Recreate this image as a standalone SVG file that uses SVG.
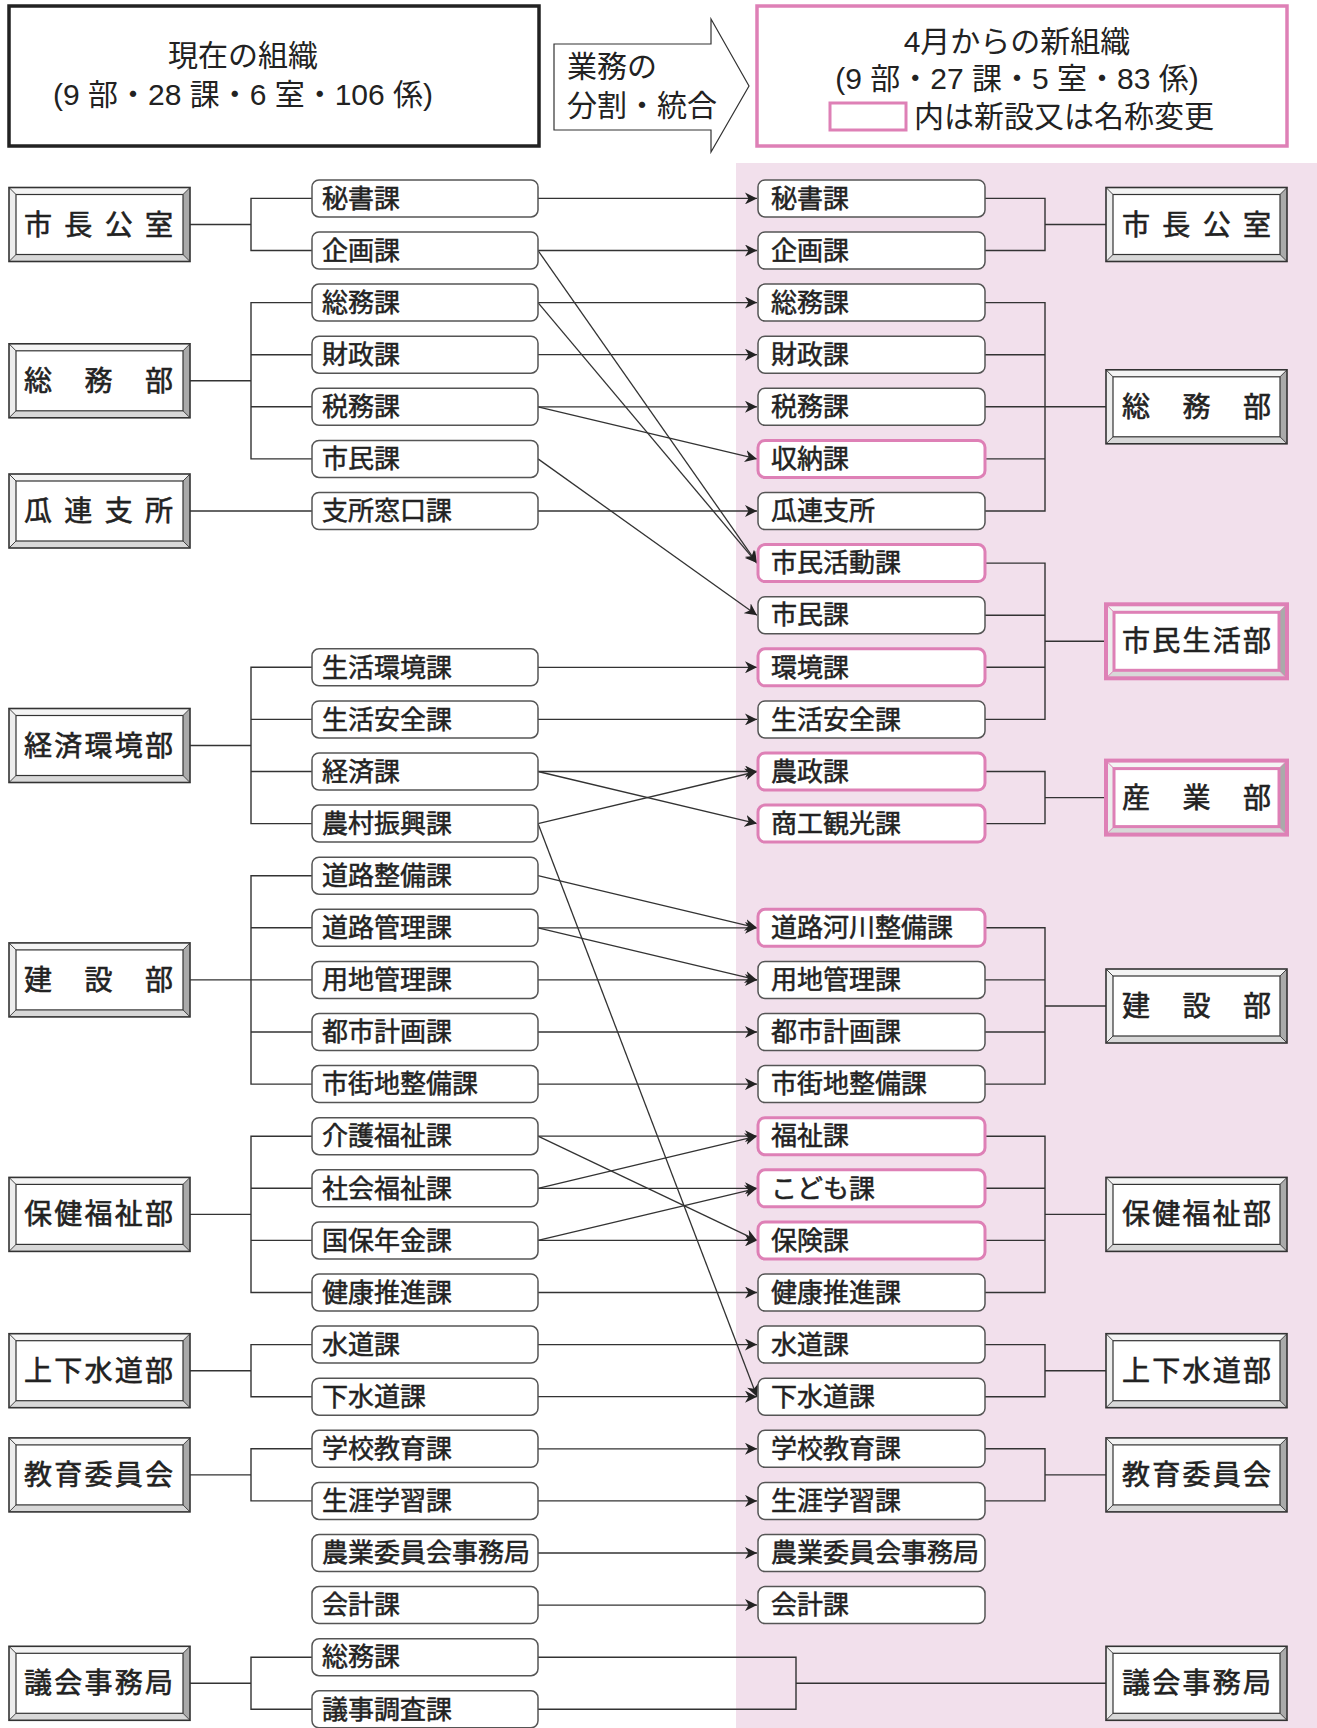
<svg xmlns="http://www.w3.org/2000/svg" xmlns:xlink="http://www.w3.org/1999/xlink" width="1317" height="1728" viewBox="0 0 1317 1728">
<style>
text{font-family:'Noto Sans CJK JP',sans-serif;fill:#222;}
.hd{font-family:'Liberation Sans','Noto Sans CJK JP',sans-serif;font-size:30px;}
.s{font-size:26px;stroke:#222;stroke-width:0.5px;}
.d{font-size:28px;stroke:#222;stroke-width:0.6px;}
.bx{fill:#fff;stroke:#555;stroke-width:1.5;}
.pk{fill:#fff;stroke:#de80b6;stroke-width:3;}
.br{fill:none;stroke:#333;stroke-width:1.4;}
.a{stroke:#333;stroke-width:1.3;fill:none;marker-end:url(#ah);}
</style>
<defs>
<marker id="ah" markerUnits="userSpaceOnUse" markerWidth="14" markerHeight="12" refX="12" refY="6" orient="auto">
<path d="M0,0 L12,6 L0,12 L3.5,6 z" fill="#222"/>
</marker>
<g id="bev">
<polygon points="0,0 181,0 174,7 7,7" fill="#f4f4f4"/>
<polygon points="0,0 7,7 7,67 0,74" fill="#ededed"/>
<polygon points="0,74 7,67 174,67 181,74" fill="#d8d8d8"/>
<polygon points="181,0 181,74 174,67 174,7" fill="#aaaaaa"/>
<rect x="7" y="7" width="167" height="60" fill="#fff" stroke="#333" stroke-width="1.2"/>
<path d="M0,0 L7,7 M181,0 L174,7 M0,74 L7,67 M181,74 L174,67" stroke="#444" stroke-width="1"/>
<rect x="0" y="0" width="181" height="74" fill="none" stroke="#333" stroke-width="1.6"/>
</g>
<g id="bevp">
<polygon points="0,0 181,0 174,7 7,7" fill="#f4f4f4"/>
<polygon points="0,0 7,7 7,67 0,74" fill="#ededed"/>
<polygon points="0,74 7,67 174,67 181,74" fill="#d8d8d8"/>
<polygon points="181,0 181,74 174,67 174,7" fill="#aaaaaa"/>
<rect x="8" y="8" width="165" height="58" fill="#fff" stroke="#de80b6" stroke-width="3"/>
<path d="M0,0 L7,7 M181,0 L174,7 M0,74 L7,67 M181,74 L174,67" stroke="#de80b6" stroke-width="1"/>
<rect x="0" y="0" width="181" height="74" fill="none" stroke="#de80b6" stroke-width="4"/>
</g>
</defs>

<rect x="736" y="163" width="581" height="1565" fill="#f2e0ec"/>

<g id="header-current">
<rect x="9" y="6" width="530" height="140" fill="#fff" stroke="#222" stroke-width="3.5"/>
<text class="hd" x="243" y="66" text-anchor="middle">現在の組織</text>
<text class="hd" x="243" y="105" text-anchor="middle">(9 部・28 課・6 室・106 係)</text>
</g>
<g id="header-arrow">
<polygon points="554,44 711,44 711,19 749,86 711,152 711,130 554,130" fill="#fff" stroke="#333" stroke-width="1.2"/>
<text class="hd" x="567" y="77">業務の</text>
<text class="hd" x="567" y="116">分割・統合</text>
</g>
<g id="header-new">
<rect x="757" y="6" width="530" height="140" fill="#fff" stroke="#de80b6" stroke-width="3.5"/>
<text class="hd" x="1017" y="52" text-anchor="middle">4月からの新組織</text>
<text class="hd" x="1017" y="89" text-anchor="middle">(9 部・27 課・5 室・83 係)</text>
<rect x="830" y="103" width="76" height="27" fill="#fff" stroke="#de80b6" stroke-width="3"/>
<text class="hd" x="914" y="127">内は新設又は名称変更</text>
</g>

<g id="connectors">
<path class="br" d="M190,224.5H251 M312,198.4H251V250.5H312"/>
<path class="br" d="M190,380.8H251 M312,302.6H251V458.9H312 M251,354.7H312 M251,406.8H312"/>
<path class="br" d="M190,511H312"/>
<path class="br" d="M190,745.5H251 M312,667.3H251V823.6H312 M251,719.4H312 M251,771.5H312"/>
<path class="br" d="M190,979.9H251 M312,875.7H251V1084.1H312 M251,927.8H312 M251,979.9H312 M251,1032H312"/>
<path class="br" d="M190,1214.4H251 M312,1136.2H251V1292.5H312 M251,1188.3H312 M251,1240.4H312"/>
<path class="br" d="M190,1370.7H251 M312,1344.6H251V1396.7H312"/>
<path class="br" d="M190,1474.9H251 M312,1448.8H251V1500.9H312"/>
<path class="br" d="M190,1683.3H251 M312,1657.2H251V1709.3H312"/>

<path class="br" d="M985,198.4H1045V250.5H985 M1045,224.5H1106"/>
<path class="br" d="M985,302.6H1045V511H985 M985,354.7H1045 M985,406.8H1106 M985,458.9H1045"/>
<path class="br" d="M985,563.1H1045V719.4H985 M985,615.2H1045 M985,667.3H1045 M1045,641.3H1106"/>
<path class="br" d="M985,771.5H1045V823.6H985 M1045,797.6H1106"/>
<path class="br" d="M985,927.8H1045V1084.1H985 M985,979.9H1045 M985,1032H1045 M1045,1006H1106"/>
<path class="br" d="M985,1136.2H1045V1292.5H985 M985,1188.3H1045 M985,1240.4H1045 M1045,1214.4H1106"/>
<path class="br" d="M985,1344.6H1045V1396.7H985 M1045,1370.7H1106"/>
<path class="br" d="M985,1448.8H1045V1500.9H985 M1045,1474.9H1106"/>
<path class="br" d="M538,1657.2H796V1709.3H538 M796,1683.3H1106"/>

<line class="a" x1="538" y1="198.4" x2="757" y2="198.4"/>
<line class="a" x1="538" y1="250.5" x2="757" y2="250.5"/>
<line class="a" x1="538" y1="302.6" x2="757" y2="302.6"/>
<line class="a" x1="538" y1="354.7" x2="757" y2="354.7"/>
<line class="a" x1="538" y1="406.8" x2="757" y2="406.8"/>
<line class="a" x1="538" y1="511" x2="757" y2="511"/>
<line class="a" x1="538" y1="667.3" x2="757" y2="667.3"/>
<line class="a" x1="538" y1="719.4" x2="757" y2="719.4"/>
<line class="a" x1="538" y1="771.5" x2="757" y2="771.5"/>
<line class="a" x1="538" y1="927.8" x2="757" y2="927.8"/>
<line class="a" x1="538" y1="979.9" x2="757" y2="979.9"/>
<line class="a" x1="538" y1="1032" x2="757" y2="1032"/>
<line class="a" x1="538" y1="1084.1" x2="757" y2="1084.1"/>
<line class="a" x1="538" y1="1136.2" x2="757" y2="1136.2"/>
<line class="a" x1="538" y1="1188.3" x2="757" y2="1188.3"/>
<line class="a" x1="538" y1="1240.4" x2="757" y2="1240.4"/>
<line class="a" x1="538" y1="1292.5" x2="757" y2="1292.5"/>
<line class="a" x1="538" y1="1344.6" x2="757" y2="1344.6"/>
<line class="a" x1="538" y1="1396.7" x2="757" y2="1396.7"/>
<line class="a" x1="538" y1="1448.8" x2="757" y2="1448.8"/>
<line class="a" x1="538" y1="1500.9" x2="757" y2="1500.9"/>
<line class="a" x1="538" y1="1553" x2="757" y2="1553"/>
<line class="a" x1="538" y1="1605.1" x2="757" y2="1605.1"/>

<line class="a" x1="538" y1="250.5" x2="757" y2="563.1"/>
<line class="a" x1="538" y1="302.6" x2="757" y2="563.1"/>
<line class="a" x1="538" y1="406.8" x2="757" y2="458.9"/>
<line class="a" x1="538" y1="458.9" x2="757" y2="615.2"/>
<line class="a" x1="538" y1="771.5" x2="757" y2="823.6"/>
<line class="a" x1="538" y1="823.6" x2="757" y2="771.5"/>
<line class="a" x1="538" y1="823.6" x2="757" y2="1396.7"/>
<line class="a" x1="538" y1="875.7" x2="757" y2="927.8"/>
<line class="a" x1="538" y1="927.8" x2="757" y2="979.9"/>
<line class="a" x1="538" y1="1136.2" x2="757" y2="1240.4"/>
<line class="a" x1="538" y1="1188.3" x2="757" y2="1136.2"/>
<line class="a" x1="538" y1="1240.4" x2="757" y2="1188.3"/>
</g>

<g id="dept-left-shicho"><use href="#bev" x="9" y="187.5"/><text class="d" x="24" y="234.5" textLength="149" lengthAdjust="spacing">市 長 公 室</text></g>
<g id="dept-left-somu"><use href="#bev" x="9" y="343.8"/><text class="d" x="24" y="390.8" textLength="149" lengthAdjust="spacing">総 務 部</text></g>
<g id="dept-left-urizura"><use href="#bev" x="9" y="474"/><text class="d" x="24" y="521" textLength="149" lengthAdjust="spacing">瓜 連 支 所</text></g>
<g id="dept-left-keizai"><use href="#bev" x="9" y="708.5"/><text class="d" x="24" y="755.5" textLength="149" lengthAdjust="spacing">経済環境部</text></g>
<g id="dept-left-kensetsu"><use href="#bev" x="9" y="942.9"/><text class="d" x="24" y="989.9" textLength="149" lengthAdjust="spacing">建 設 部</text></g>
<g id="dept-left-hoken"><use href="#bev" x="9" y="1177.4"/><text class="d" x="24" y="1224.4" textLength="149" lengthAdjust="spacing">保健福祉部</text></g>
<g id="dept-left-jogesui"><use href="#bev" x="9" y="1333.7"/><text class="d" x="24" y="1380.7" textLength="149" lengthAdjust="spacing">上下水道部</text></g>
<g id="dept-left-kyoiku"><use href="#bev" x="9" y="1437.9"/><text class="d" x="24" y="1484.9" textLength="149" lengthAdjust="spacing">教育委員会</text></g>
<g id="dept-left-gikai"><use href="#bev" x="9" y="1646.3"/><text class="d" x="24" y="1693.3" textLength="149" lengthAdjust="spacing">議会事務局</text></g>

<g id="dept-right-shicho"><use href="#bev" x="1106" y="187.5"/><text class="d" x="1122" y="234.5" textLength="149" lengthAdjust="spacing">市 長 公 室</text></g>
<g id="dept-right-somu"><use href="#bev" x="1106" y="369.8"/><text class="d" x="1122" y="416.8" textLength="149" lengthAdjust="spacing">総 務 部</text></g>
<g id="dept-right-shimin"><use href="#bevp" x="1106" y="604.3"/><text class="d" x="1122" y="651.3" textLength="149" lengthAdjust="spacing">市民生活部</text></g>
<g id="dept-right-sangyo"><use href="#bevp" x="1106" y="760.6"/><text class="d" x="1122" y="807.6" textLength="149" lengthAdjust="spacing">産 業 部</text></g>
<g id="dept-right-kensetsu"><use href="#bev" x="1106" y="969"/><text class="d" x="1122" y="1016" textLength="149" lengthAdjust="spacing">建 設 部</text></g>
<g id="dept-right-hoken"><use href="#bev" x="1106" y="1177.4"/><text class="d" x="1122" y="1224.4" textLength="149" lengthAdjust="spacing">保健福祉部</text></g>
<g id="dept-right-jogesui"><use href="#bev" x="1106" y="1333.7"/><text class="d" x="1122" y="1380.7" textLength="149" lengthAdjust="spacing">上下水道部</text></g>
<g id="dept-right-kyoiku"><use href="#bev" x="1106" y="1437.9"/><text class="d" x="1122" y="1484.9" textLength="149" lengthAdjust="spacing">教育委員会</text></g>
<g id="dept-right-gikai"><use href="#bev" x="1106" y="1646.3"/><text class="d" x="1122" y="1693.3" textLength="149" lengthAdjust="spacing">議会事務局</text></g>

<g id="L0"><rect class="bx" x="312" y="179.9" width="226" height="37" rx="7"/><text class="s" x="322" y="207.6">秘書課</text></g>
<g id="L1"><rect class="bx" x="312" y="232" width="226" height="37" rx="7"/><text class="s" x="322" y="259.7">企画課</text></g>
<g id="L2"><rect class="bx" x="312" y="284.1" width="226" height="37" rx="7"/><text class="s" x="322" y="311.8">総務課</text></g>
<g id="L3"><rect class="bx" x="312" y="336.2" width="226" height="37" rx="7"/><text class="s" x="322" y="363.9">財政課</text></g>
<g id="L4"><rect class="bx" x="312" y="388.3" width="226" height="37" rx="7"/><text class="s" x="322" y="416">税務課</text></g>
<g id="L5"><rect class="bx" x="312" y="440.4" width="226" height="37" rx="7"/><text class="s" x="322" y="468.1">市民課</text></g>
<g id="L6"><rect class="bx" x="312" y="492.5" width="226" height="37" rx="7"/><text class="s" x="322" y="520.2">支所窓口課</text></g>
<g id="L9"><rect class="bx" x="312" y="648.8" width="226" height="37" rx="7"/><text class="s" x="322" y="676.5">生活環境課</text></g>
<g id="L10"><rect class="bx" x="312" y="700.9" width="226" height="37" rx="7"/><text class="s" x="322" y="728.6">生活安全課</text></g>
<g id="L11"><rect class="bx" x="312" y="753" width="226" height="37" rx="7"/><text class="s" x="322" y="780.7">経済課</text></g>
<g id="L12"><rect class="bx" x="312" y="805.1" width="226" height="37" rx="7"/><text class="s" x="322" y="832.8">農村振興課</text></g>
<g id="L13"><rect class="bx" x="312" y="857.2" width="226" height="37" rx="7"/><text class="s" x="322" y="884.9">道路整備課</text></g>
<g id="L14"><rect class="bx" x="312" y="909.3" width="226" height="37" rx="7"/><text class="s" x="322" y="937">道路管理課</text></g>
<g id="L15"><rect class="bx" x="312" y="961.4" width="226" height="37" rx="7"/><text class="s" x="322" y="989.1">用地管理課</text></g>
<g id="L16"><rect class="bx" x="312" y="1013.5" width="226" height="37" rx="7"/><text class="s" x="322" y="1041.2">都市計画課</text></g>
<g id="L17"><rect class="bx" x="312" y="1065.6" width="226" height="37" rx="7"/><text class="s" x="322" y="1093.3">市街地整備課</text></g>
<g id="L18"><rect class="bx" x="312" y="1117.7" width="226" height="37" rx="7"/><text class="s" x="322" y="1145.4">介護福祉課</text></g>
<g id="L19"><rect class="bx" x="312" y="1169.8" width="226" height="37" rx="7"/><text class="s" x="322" y="1197.5">社会福祉課</text></g>
<g id="L20"><rect class="bx" x="312" y="1221.9" width="226" height="37" rx="7"/><text class="s" x="322" y="1249.6">国保年金課</text></g>
<g id="L21"><rect class="bx" x="312" y="1274" width="226" height="37" rx="7"/><text class="s" x="322" y="1301.7">健康推進課</text></g>
<g id="L22"><rect class="bx" x="312" y="1326.1" width="226" height="37" rx="7"/><text class="s" x="322" y="1353.8">水道課</text></g>
<g id="L23"><rect class="bx" x="312" y="1378.2" width="226" height="37" rx="7"/><text class="s" x="322" y="1405.9">下水道課</text></g>
<g id="L24"><rect class="bx" x="312" y="1430.3" width="226" height="37" rx="7"/><text class="s" x="322" y="1458">学校教育課</text></g>
<g id="L25"><rect class="bx" x="312" y="1482.4" width="226" height="37" rx="7"/><text class="s" x="322" y="1510.1">生涯学習課</text></g>
<g id="L26"><rect class="bx" x="312" y="1534.5" width="226" height="37" rx="7"/><text class="s" x="322" y="1562.2">農業委員会事務局</text></g>
<g id="L27"><rect class="bx" x="312" y="1586.6" width="226" height="37" rx="7"/><text class="s" x="322" y="1614.3">会計課</text></g>
<g id="L28"><rect class="bx" x="312" y="1638.7" width="226" height="37" rx="7"/><text class="s" x="322" y="1666.4">総務課</text></g>
<g id="L29"><rect class="bx" x="312" y="1690.8" width="226" height="37" rx="7"/><text class="s" x="322" y="1718.5">議事調査課</text></g>

<g id="R0"><rect class="bx" x="758" y="179.9" width="227" height="37" rx="7"/><text class="s" x="771" y="207.6">秘書課</text></g>
<g id="R1"><rect class="bx" x="758" y="232" width="227" height="37" rx="7"/><text class="s" x="771" y="259.7">企画課</text></g>
<g id="R2"><rect class="bx" x="758" y="284.1" width="227" height="37" rx="7"/><text class="s" x="771" y="311.8">総務課</text></g>
<g id="R3"><rect class="bx" x="758" y="336.2" width="227" height="37" rx="7"/><text class="s" x="771" y="363.9">財政課</text></g>
<g id="R4"><rect class="bx" x="758" y="388.3" width="227" height="37" rx="7"/><text class="s" x="771" y="416">税務課</text></g>
<g id="R5"><rect class="pk" x="758" y="440.4" width="227" height="37" rx="7"/><text class="s" x="771" y="468.1">収納課</text></g>
<g id="R6"><rect class="bx" x="758" y="492.5" width="227" height="37" rx="7"/><text class="s" x="771" y="520.2">瓜連支所</text></g>
<g id="R7"><rect class="pk" x="758" y="544.6" width="227" height="37" rx="7"/><text class="s" x="771" y="572.3">市民活動課</text></g>
<g id="R8"><rect class="bx" x="758" y="596.7" width="227" height="37" rx="7"/><text class="s" x="771" y="624.4">市民課</text></g>
<g id="R9"><rect class="pk" x="758" y="648.8" width="227" height="37" rx="7"/><text class="s" x="771" y="676.5">環境課</text></g>
<g id="R10"><rect class="bx" x="758" y="700.9" width="227" height="37" rx="7"/><text class="s" x="771" y="728.6">生活安全課</text></g>
<g id="R11"><rect class="pk" x="758" y="753" width="227" height="37" rx="7"/><text class="s" x="771" y="780.7">農政課</text></g>
<g id="R12"><rect class="pk" x="758" y="805.1" width="227" height="37" rx="7"/><text class="s" x="771" y="832.8">商工観光課</text></g>
<g id="R14"><rect class="pk" x="758" y="909.3" width="227" height="37" rx="7"/><text class="s" x="771" y="937">道路河川整備課</text></g>
<g id="R15"><rect class="bx" x="758" y="961.4" width="227" height="37" rx="7"/><text class="s" x="771" y="989.1">用地管理課</text></g>
<g id="R16"><rect class="bx" x="758" y="1013.5" width="227" height="37" rx="7"/><text class="s" x="771" y="1041.2">都市計画課</text></g>
<g id="R17"><rect class="bx" x="758" y="1065.6" width="227" height="37" rx="7"/><text class="s" x="771" y="1093.3">市街地整備課</text></g>
<g id="R18"><rect class="pk" x="758" y="1117.7" width="227" height="37" rx="7"/><text class="s" x="771" y="1145.4">福祉課</text></g>
<g id="R19"><rect class="pk" x="758" y="1169.8" width="227" height="37" rx="7"/><text class="s" x="771" y="1197.5">こども課</text></g>
<g id="R20"><rect class="pk" x="758" y="1221.9" width="227" height="37" rx="7"/><text class="s" x="771" y="1249.6">保険課</text></g>
<g id="R21"><rect class="bx" x="758" y="1274" width="227" height="37" rx="7"/><text class="s" x="771" y="1301.7">健康推進課</text></g>
<g id="R22"><rect class="bx" x="758" y="1326.1" width="227" height="37" rx="7"/><text class="s" x="771" y="1353.8">水道課</text></g>
<g id="R23"><rect class="bx" x="758" y="1378.2" width="227" height="37" rx="7"/><text class="s" x="771" y="1405.9">下水道課</text></g>
<g id="R24"><rect class="bx" x="758" y="1430.3" width="227" height="37" rx="7"/><text class="s" x="771" y="1458">学校教育課</text></g>
<g id="R25"><rect class="bx" x="758" y="1482.4" width="227" height="37" rx="7"/><text class="s" x="771" y="1510.1">生涯学習課</text></g>
<g id="R26"><rect class="bx" x="758" y="1534.5" width="227" height="37" rx="7"/><text class="s" x="771" y="1562.2">農業委員会事務局</text></g>
<g id="R27"><rect class="bx" x="758" y="1586.6" width="227" height="37" rx="7"/><text class="s" x="771" y="1614.3">会計課</text></g>
</svg>
